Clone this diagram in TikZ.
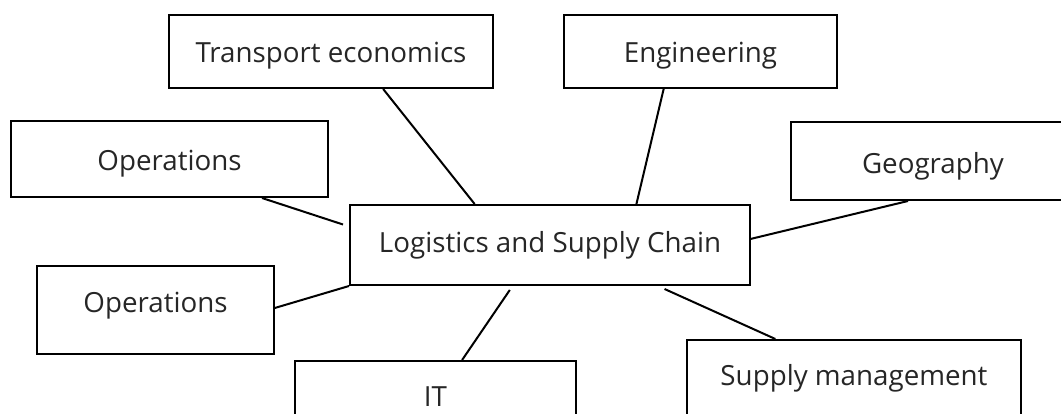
\documentclass[tikz,border=0pt]{standalone}
\usepackage{fontspec}
\setmainfont{Open Sans}
\usetikzlibrary{calc}
\begin{document}
\begin{tikzpicture}[x=0.75pt,y=-0.75pt,
  box/.style={draw=black, line width=1.5pt, inner sep=0pt, text=black!85,
    font=\fontsize{20.8}{24}\selectfont, text height=14.85pt, text depth=0pt},
  link/.style={draw=black, line width=1.5pt}]
\useasboundingbox (0,0) rectangle (1061,414);
\clip (0,0) rectangle (1061,414);
\node[box, minimum width=243pt, minimum height=54.75pt, text height=17.1pt] (te) at (331,51.5) {Transport economics};
\node[box, minimum width=204.75pt, minimum height=54.75pt, text height=17.1pt] (en) at (700.5,51.5) {Engineering};
\node[box, minimum width=237.75pt, minimum height=57pt, text height=17.1pt] (op1) at (169.5,159) {Operations};
\node[box, anchor=north west, minimum height=58.5pt, inner xsep=53.25pt, text width=110pt, align=left, text height=18.6pt] (geo) at (790,121) {Geography};
\node[box, minimum width=300pt, minimum height=60pt, text depth=3pt] (lsc) at (550,245) {Logistics and Supply Chain};
\node[box, minimum width=177.75pt, minimum height=66pt, text depth=10.5pt] (op2) at (155.5,310) {Operations};
\node[box, minimum width=210.75pt, minimum height=54pt] (it) at (435.5,397) {IT};
\node[box, minimum width=250.5pt, minimum height=60pt, text depth=6pt] (sm) at (854,380) {Supply management};
\draw[link] ($(te.south west)!0.66!(te.south east)$) -- ($(lsc.north west)!0.3125!(lsc.north east)$);
\draw[link] ($(op1.south west)!0.79!(op1.south east)$) -- ($(lsc.north west)!0.25!(lsc.south west)+(-6,0)$);
\draw[link] ($(en.south west)!0.366!(en.south east)$) -- ($(lsc.north west)!0.715!(lsc.north east)$);
\draw[link] ($(geo.south west)!0.406!(geo.south east)$) -- ($(lsc.north east)!0.425!(lsc.south east)$);
\draw[link] ($(op2.north east)!0.477!(op2.south east)$) -- (lsc.south west);
\draw[link] ($(lsc.south west)!0.4!(lsc.south east)+(0,4)$) -- ($(it.north west)!0.594!(it.north east)$);
\draw[link] ($(lsc.south west)!0.785!(lsc.south east)+(0,3)$) -- ($(sm.north west)!0.266!(sm.north east)$);
\end{tikzpicture}
\end{document}
